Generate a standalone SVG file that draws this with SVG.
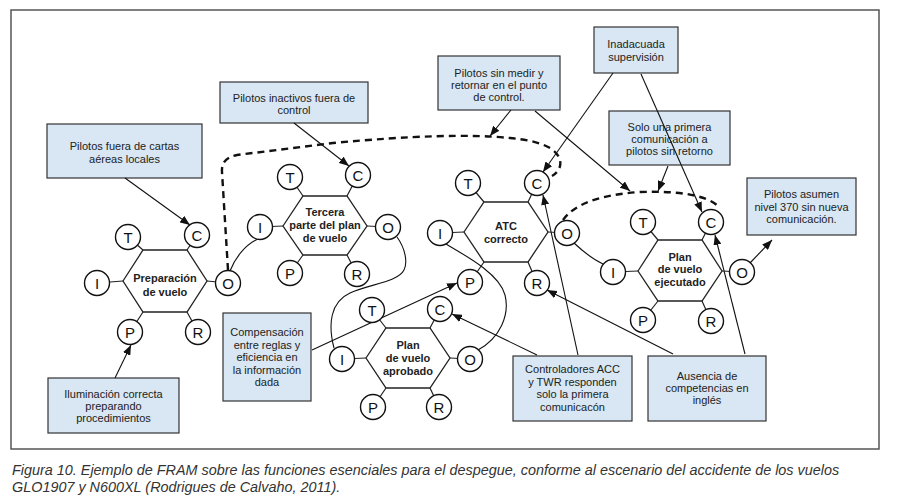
<svg xmlns="http://www.w3.org/2000/svg" width="902" height="502" viewBox="0 0 902 502">
<defs>
<marker id="ah" markerUnits="userSpaceOnUse" markerWidth="10" markerHeight="8" refX="10" refY="4" orient="auto">
<path d="M0,0 L10,4 L0,8 Z" fill="#111"/>
</marker>
<style>
.frame{fill:#fff;stroke:#555;stroke-width:1.5}
.box{fill:#d8e7f3;stroke:#333;stroke-width:1.2}
.bt{font-family:"Liberation Sans",Arial,sans-serif;font-size:11px;fill:#222;text-anchor:middle}
.hex{fill:#fff;stroke:#222;stroke-width:1.3}
.ht{font-family:"Liberation Sans",Arial,sans-serif;font-size:11px;font-weight:bold;fill:#222;text-anchor:middle}
.c{fill:#fff;stroke:#111;stroke-width:1.4}
.ct{font-family:"Liberation Sans",Arial,sans-serif;font-size:15px;fill:#111;text-anchor:middle}
.stub{stroke:#222;stroke-width:1.2;fill:none}
.arr{stroke:#111;stroke-width:1.1;fill:none;marker-end:url(#ah)}
.cur{stroke:#111;stroke-width:1.1;fill:none}
.dash{stroke:#111;stroke-width:2.4;fill:none;stroke-dasharray:7 5}
.cap{font-family:"Liberation Sans",Arial,sans-serif;font-size:14.4px;font-style:italic;fill:#333}
</style>
</defs>
<rect class="frame" x="11" y="10" width="868" height="439"/>

<g id="box1"><rect class="box" x="47" y="124" width="155" height="54"/>
<text class="bt" x="124.5" y="150">Pilotos fuera de cartas</text><text class="bt" x="124.5" y="162.5">aéreas locales</text></g>
<g id="box2"><rect class="box" x="220" y="82" width="148" height="41"/>
<text class="bt" x="294" y="102">Pilotos inactivos fuera de</text><text class="bt" x="294" y="114">control</text></g>
<g id="box3"><rect class="box" x="594" y="27" width="84" height="46"/>
<text class="bt" x="636" y="48">Inadacuada</text><text class="bt" x="636" y="61">supervisión</text></g>
<g id="box4"><rect class="box" x="438" y="56" width="122" height="54"/>
<text class="bt" x="499" y="77">Pilotos sin medir y</text><text class="bt" x="499" y="89">retornar en el punto</text><text class="bt" x="499" y="101">de control.</text></g>
<g id="box5"><rect class="box" x="609" y="111" width="121" height="54"/>
<text class="bt" x="669.5" y="131">Solo una primera</text><text class="bt" x="669.5" y="143">comunicación a</text><text class="bt" x="669.5" y="155">pilotos sin retorno</text></g>
<g id="box6"><rect class="box" x="747" y="178" width="109" height="57"/>
<text class="bt" x="801.5" y="198">Pilotos asumen</text><text class="bt" x="801.5" y="211">nivel 370 sin nueva</text><text class="bt" x="801.5" y="223">comunicación.</text></g>
<g id="box7"><rect class="box" x="223" y="313" width="88" height="88"/>
<text class="bt" x="267" y="336">Compensación</text><text class="bt" x="267" y="349">entre reglas y</text><text class="bt" x="267" y="361">eficiencia en</text><text class="bt" x="267" y="374">la información</text><text class="bt" x="267" y="386">dada</text></g>
<g id="box8"><rect class="box" x="48" y="378" width="131" height="55"/>
<text class="bt" x="113.5" y="398">Iluminación correcta</text><text class="bt" x="113.5" y="410">preparando</text><text class="bt" x="113.5" y="422">procedimientos</text></g>
<g id="box9"><rect class="box" x="513" y="356" width="119" height="65"/>
<text class="bt" x="572.5" y="373">Controladores ACC</text><text class="bt" x="572.5" y="386">y TWR responden</text><text class="bt" x="572.5" y="398">solo la primera</text><text class="bt" x="572.5" y="411">comunicacón</text></g>
<g id="box10"><rect class="box" x="648" y="356" width="118" height="65"/>
<text class="bt" x="707" y="380">Ausencia de</text><text class="bt" x="707" y="392">competencias en</text><text class="bt" x="707" y="404">inglés</text></g>

<g id="connectors">
<path class="arr" d="M125,178 L190,225"/>
<path class="arr" d="M294,123 L349,166"/>
<path class="arr" d="M115,378 L131,345"/>
<path class="arr" d="M511,110 L490,136"/>
<path class="arr" d="M535,111 L630,191"/>
<path class="arr" d="M613,73 L543,172"/>
<path class="arr" d="M641,74 L702,212"/>
<path class="arr" d="M668,166 L658,191"/>
<path class="arr" d="M750,263 L772,240"/>
<path class="arr" d="M312,350 L457,283"/>
<path class="arr" d="M537,355 L452,314"/>
<path class="arr" d="M578,355 L543,195"/>
<path class="arr" d="M673,354 L547,290"/>
<path class="arr" d="M745,354 L715,235"/>
<path class="cur" d="M230,271 C235,258 245,245 258,239"/>
<path class="cur" d="M397,237 C405,248 408,262 404,270 C398,282 370,284 350,293 C330,302 328,325 334,348"/>
<path class="cur" d="M478,350 C500,338 510,315 505,295 C500,275 470,258 446,244"/>
<path class="cur" d="M574,243 Q590,258 603,264"/>
<path class="dash" d="M228,270 L222,172 Q221,158 237,155 L333,143 Q450,132 510,138 Q555,142 560,160 Q562,170 552,176"/>
<path class="dash" d="M563,220 Q580,196 640,192 Q700,190 718,206"/>
</g>

<g id="f1">
<path class="stub" d="M128,237 L143,250 M197,235 L187,250 M97,283 L123,281 M228,283 L207,281 M130,332 L143,312 M198,332 L187,312"/>
<polygon class="hex" points="123,281 143,250 187,250 207,281 187,312 143,312"/>
<text class="ht" x="165" y="282">Preparación</text><text class="ht" x="165" y="296">de vuelo</text>
<circle class="c" cx="128" cy="237" r="12.5"/><text class="ct" x="128" y="242.5">T</text>
<circle class="c" cx="197" cy="235" r="12.5"/><text class="ct" x="197" y="240.5">C</text>
<circle class="c" cx="97" cy="283" r="12.5"/><text class="ct" x="97" y="288.5">I</text>
<circle class="c" cx="228" cy="283" r="12.5"/><text class="ct" x="228" y="288.5">O</text>
<circle class="c" cx="130" cy="332" r="12.5"/><text class="ct" x="130" y="337.5">P</text>
<circle class="c" cx="198" cy="332" r="12.5"/><text class="ct" x="198" y="337.5">R</text>
</g>
<g id="f2">
<path class="stub" d="M290,177 L303,196 M358,175 L347,196 M260,227 L283,226 M388,227 L367,226 M290,273 L303,255 M357,274 L347,255"/>
<polygon class="hex" points="283,226 303,196 347,196 367,226 347,255 303,255"/>
<text class="ht" x="325" y="216">Tercera</text><text class="ht" x="325" y="229">parte del plan</text><text class="ht" x="325" y="242">de vuelo</text>
<circle class="c" cx="290" cy="177" r="12.5"/><text class="ct" x="290" y="182.5">T</text>
<circle class="c" cx="358" cy="175" r="12.5"/><text class="ct" x="358" y="180.5">C</text>
<circle class="c" cx="260" cy="227" r="12.5"/><text class="ct" x="260" y="232.5">I</text>
<circle class="c" cx="388" cy="227" r="12.5"/><text class="ct" x="388" y="232.5">O</text>
<circle class="c" cx="290" cy="273" r="12.5"/><text class="ct" x="290" y="278.5">P</text>
<circle class="c" cx="357" cy="274" r="12.5"/><text class="ct" x="357" y="279.5">R</text>
</g>
<g id="f3">
<path class="stub" d="M468,183 L484,202 M537,183 L528,202 M440,233 L464,232 M567,233 L548,232 M470,282 L484,262 M537,283 L528,262"/>
<polygon class="hex" points="464,232 484,202 528,202 548,232 528,262 484,262"/>
<text class="ht" x="506" y="230">ATC</text><text class="ht" x="506" y="243">correcto</text>
<circle class="c" cx="468" cy="183" r="12.5"/><text class="ct" x="468" y="188.5">T</text>
<circle class="c" cx="537" cy="183" r="12.5"/><text class="ct" x="537" y="188.5">C</text>
<circle class="c" cx="440" cy="233" r="12.5"/><text class="ct" x="440" y="238.5">I</text>
<circle class="c" cx="567" cy="233" r="12.5"/><text class="ct" x="567" y="238.5">O</text>
<circle class="c" cx="470" cy="282" r="12.5"/><text class="ct" x="470" y="287.5">P</text>
<circle class="c" cx="537" cy="283" r="12.5"/><text class="ct" x="537" y="288.5">R</text>
</g>
<g id="f4">
<path class="stub" d="M372,310 L386,328 M440,309 L430,328 M342,359 L366,358 M470,359 L450,358 M373,407 L386,388 M439,407 L430,388"/>
<polygon class="hex" points="366,358 386,328 430,328 450,358 430,388 386,388"/>
<text class="ht" x="408" y="349">Plan</text><text class="ht" x="408" y="362">de vuelo</text><text class="ht" x="408" y="375">aprobado</text>
<circle class="c" cx="372" cy="310" r="12.5"/><text class="ct" x="372" y="315.5">T</text>
<circle class="c" cx="440" cy="309" r="12.5"/><text class="ct" x="440" y="314.5">C</text>
<circle class="c" cx="342" cy="359" r="12.5"/><text class="ct" x="342" y="364.5">I</text>
<circle class="c" cx="470" cy="359" r="12.5"/><text class="ct" x="470" y="364.5">O</text>
<circle class="c" cx="373" cy="407" r="12.5"/><text class="ct" x="373" y="412.5">P</text>
<circle class="c" cx="439" cy="407" r="12.5"/><text class="ct" x="439" y="412.5">R</text>
</g>
<g id="f5">
<path class="stub" d="M643,222 L658,240 M711,222 L702,240 M613,272 L638,271 M742,272 L722,271 M643,320 L658,301 M711,321 L702,301"/>
<polygon class="hex" points="638,271 658,240 702,240 722,271 702,301 658,301"/>
<text class="ht" x="680" y="261">Plan</text><text class="ht" x="680" y="273">de vuelo</text><text class="ht" x="680" y="286">ejecutado</text>
<circle class="c" cx="643" cy="222" r="12.5"/><text class="ct" x="643" y="227.5">T</text>
<circle class="c" cx="711" cy="222" r="12.5"/><text class="ct" x="711" y="227.5">C</text>
<circle class="c" cx="613" cy="272" r="12.5"/><text class="ct" x="613" y="277.5">I</text>
<circle class="c" cx="742" cy="272" r="12.5"/><text class="ct" x="742" y="277.5">O</text>
<circle class="c" cx="643" cy="320" r="12.5"/><text class="ct" x="643" y="325.5">P</text>
<circle class="c" cx="711" cy="321" r="12.5"/><text class="ct" x="711" y="326.5">R</text>
</g>

<g id="caption">
<text class="cap" x="12" y="475">Figura 10. Ejemplo de FRAM sobre las funciones esenciales para el despegue, conforme al escenario del accidente de los vuelos</text>
<text class="cap" x="12" y="492">GLO1907 y N600XL (Rodrigues de Calvaho, 2011).</text>
</g>
</svg>
